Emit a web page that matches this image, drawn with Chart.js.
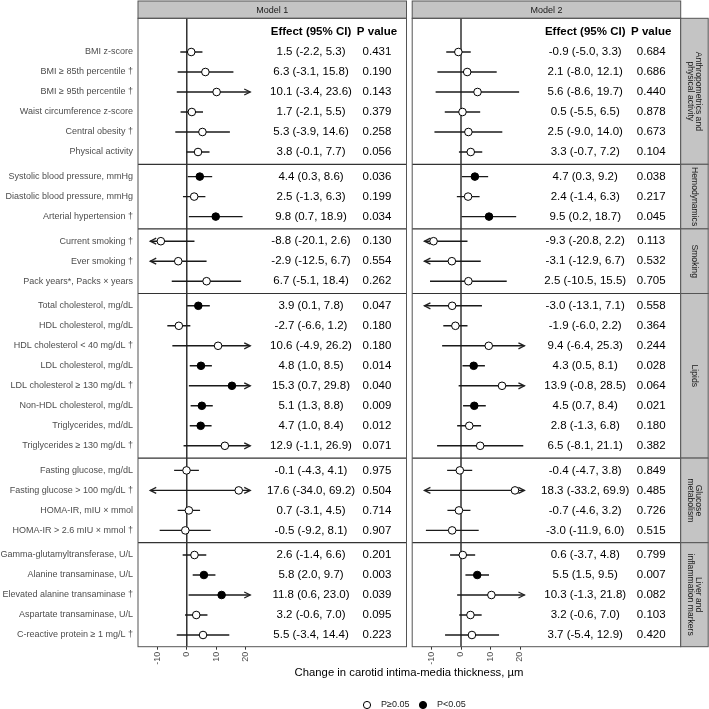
<!DOCTYPE html>
<html>
<head>
<meta charset="utf-8">
<script src="https://cdn.jsdelivr.net/npm/chart.js@4.4.1/dist/chart.umd.min.js"></script>
<style>
  body { margin: 0; background: #fff; }
  #wrap { position: relative; width: 709px; height: 709px; }
  #wrap canvas { position: absolute; left: 0; top: 0; }
</style>
</head>
<body>
<div id="wrap">
  <canvas id="model1" width="709" height="709"></canvas>
  <canvas id="model2" width="709" height="709"></canvas>
</div>
<script>
const groupNames = [["Anthropometrics and", "physical activity"], ["Hemodynamics"], ["Smoking"], ["Lipids"], ["Glucose", "metabolism"], ["Liver and", "inflammation markers"]];
const groupSizes = [6, 3, 3, 8, 4, 5];

const rowLabels = [
  "BMI z-score", "BMI ≥ 85th percentile †", "BMI ≥ 95th percentile †", "Waist circumference z-score", "Central obesity †", "Physical activity",
  "Systolic blood pressure, mmHg", "Diastolic blood pressure, mmHg", "Arterial hypertension †",
  "Current smoking †", "Ever smoking †", "Pack years*, Packs × years",
  "Total cholesterol, mg/dL", "HDL cholesterol, mg/dL", "HDL cholesterol < 40 mg/dL †", "LDL cholesterol, mg/dL",
  "LDL cholesterol ≥ 130 mg/dL †", "Non-HDL cholesterol, mg/dL", "Triglycerides, md/dL", "Triglycerides ≥ 130 mg/dL †",
  "Fasting glucose, mg/dL", "Fasting glucose > 100 mg/dL †", "HOMA-IR, mIU × mmol", "HOMA-IR > 2.6 mIU × mmol †",
  "Gamma-glutamyltransferase, U/L", "Alanine transaminase, U/L", "Elevated alanine transaminase †", "Aspartate transaminase, U/L", "C-reactive protein ≥ 1 mg/L †"
];

// Model 1
const m1Est  = [1.5, 6.3, 10.1, 1.7, 5.3, 3.8, 4.4, 2.5, 9.8, -8.8, -2.9, 6.7, 3.9, -2.7, 10.6, 4.8, 15.3, 5.1, 4.7, 12.9, -0.1, 17.6, 0.7, -0.5, 2.6, 5.8, 11.8, 3.2, 5.5];
const m1Low  = [-2.2, -3.1, -3.4, -2.1, -3.9, -0.1, 0.3, -1.3, 0.7, -20.1, -12.5, -5.1, 0.1, -6.6, -4.9, 1.0, 0.7, 1.3, 1.0, -1.1, -4.3, -34.0, -3.1, -9.2, -1.4, 2.0, 0.6, -0.6, -3.4];
const m1High = [5.3, 15.8, 23.6, 5.5, 14.6, 7.7, 8.6, 6.3, 18.9, 2.6, 6.7, 18.4, 7.8, 1.2, 26.2, 8.5, 29.8, 8.8, 8.4, 26.9, 4.1, 69.2, 4.5, 8.1, 6.6, 9.7, 23.0, 7.0, 14.4];
const m1P    = [0.431, 0.190, 0.143, 0.379, 0.258, 0.056, 0.036, 0.199, 0.034, 0.130, 0.554, 0.262, 0.047, 0.180, 0.180, 0.014, 0.040, 0.009, 0.012, 0.071, 0.975, 0.504, 0.714, 0.907, 0.201, 0.003, 0.039, 0.095, 0.223];

// Model 2
const m2Est  = [-0.9, 2.1, 5.6, 0.5, 2.5, 3.3, 4.7, 2.4, 9.5, -9.3, -3.1, 2.5, -3.0, -1.9, 9.4, 4.3, 13.9, 4.5, 2.8, 6.5, -0.4, 18.3, -0.7, -3.0, 0.6, 5.5, 10.3, 3.2, 3.7];
const m2Low  = [-5.0, -8.0, -8.6, -5.5, -9.0, -0.7, 0.3, -1.4, 0.2, -20.8, -12.9, -10.5, -13.1, -6.0, -6.4, 0.5, -0.8, 0.7, -1.3, -8.1, -4.7, -33.2, -4.6, -11.9, -3.7, 1.5, -1.3, -0.6, -5.4];
const m2High = [3.3, 12.1, 19.7, 6.5, 14.0, 7.2, 9.2, 6.3, 18.7, 2.2, 6.7, 15.5, 7.1, 2.2, 25.3, 8.1, 28.5, 8.4, 6.8, 21.1, 3.8, 69.9, 3.2, 6.0, 4.8, 9.5, 21.8, 7.0, 12.9];
const m2P    = [0.684, 0.686, 0.440, 0.878, 0.673, 0.104, 0.038, 0.217, 0.045, 0.113, 0.532, 0.705, 0.558, 0.364, 0.244, 0.028, 0.064, 0.021, 0.180, 0.382, 0.849, 0.485, 0.726, 0.515, 0.799, 0.007, 0.082, 0.103, 0.420];

const tickValues = [-10, 0, 10, 20];
const xMin = -16.54, xMax = 74.46;     // axis range of each panel
const clipLow = -12.4, clipHigh = 21.5; // CI beyond these gets an arrow
const groupGap = 1.23;

const FONT = "'Liberation Sans', Arial, sans-serif";
Chart.defaults.font.family = FONT;

// row positions on the y scale (0 = column header row)
const rowPos = [];
const seps = [];
let u = 0;
groupSizes.forEach((n, g) => {
  for (let i = 0; i < n; i++) {
    if (i === 0 && g > 0) {
      seps.push(u + groupGap / 2);
      u += groupGap;
    } else {
      u += 1;
    }
    rowPos.push(u);
  }
});
const yMin = -0.685, yMax = rowPos[rowPos.length - 1] + 0.585;

const fmt = v => v.toFixed(1);

function arrowHead(ctx, xTip, yy, dir) {
  const len = 6, half = 3;
  ctx.beginPath();
  ctx.moveTo(xTip - dir * len, yy - half);
  ctx.lineTo(xTip, yy);
  ctx.lineTo(xTip - dir * len, yy + half);
  ctx.stroke();
}

const panelDecor = {
  id: 'panelDecor',
  beforeDatasetsDraw(chart, args, o) {
    const { ctx, chartArea: a, scales: { x, y } } = chart;
    ctx.save();
    // header strip
    ctx.fillStyle = '#c4c4c4';
    ctx.fillRect(a.left, 1, a.right - a.left, a.top - 1);
    ctx.strokeStyle = '#555';
    ctx.lineWidth = 1;
    ctx.strokeRect(a.left, 1, a.right - a.left, a.top - 1);
    ctx.fillStyle = '#1a1a1a';
    ctx.font = '9px ' + FONT;
    ctx.textAlign = 'center';
    ctx.textBaseline = 'middle';
    ctx.fillText(o.title, (a.left + a.right) / 2, (1 + a.top) / 2 + 0.5);

    // zero line
    const x0 = x.getPixelForValue(0);
    ctx.strokeStyle = '#111';
    ctx.lineWidth = 1.3;
    ctx.beginPath();
    ctx.moveTo(x0, a.top);
    ctx.lineTo(x0, a.bottom);
    ctx.stroke();

    // group separators
    ctx.strokeStyle = '#333';
    ctx.lineWidth = 1.2;
    seps.forEach(s => {
      const py = y.getPixelForValue(s);
      ctx.beginPath();
      ctx.moveTo(a.left, py);
      ctx.lineTo(a.right, py);
      ctx.stroke();
    });
    ctx.restore();
  },
  afterDatasetsDraw(chart, args, o) {
    const { ctx, chartArea: a, scales: { x, y } } = chart;
    ctx.save();
    // arrows on clipped intervals
    ctx.strokeStyle = '#222';
    ctx.lineWidth = 1.3;
    o.low.forEach((lo, i) => {
      const py = y.getPixelForValue(rowPos[i]);
      if (lo < clipLow) arrowHead(ctx, x.getPixelForValue(clipLow), py, -1);
      if (o.high[i] > clipHigh) arrowHead(ctx, x.getPixelForValue(clipHigh), py, 1);
    });

    // panel border
    ctx.strokeStyle = '#555';
    ctx.lineWidth = 1;
    ctx.strokeRect(a.left, a.top, a.right - a.left, a.bottom - a.top);

    // table columns
    const cEff = a.left + 173, cP = a.left + 239;
    ctx.fillStyle = '#000';
    ctx.textAlign = 'center';
    ctx.textBaseline = 'middle';
    ctx.font = 'bold 11.5px ' + FONT;
    const hy = y.getPixelForValue(0);
    ctx.fillText('Effect (95% CI)', cEff, hy);
    ctx.fillText('P value', cP, hy);
    ctx.font = '11.5px ' + FONT;
    o.est.forEach((e, i) => {
      const py = y.getPixelForValue(rowPos[i]);
      ctx.fillText(fmt(e) + ' (' + fmt(o.low[i]) + ', ' + fmt(o.high[i]) + ')', cEff, py);
      ctx.fillText(o.p[i].toFixed(3), cP, py);
    });

    if (o.first) {
      // row labels
      ctx.fillStyle = '#4d4d4d';
      ctx.font = '9px ' + FONT;
      ctx.textAlign = 'right';
      rowLabels.forEach((lab, i) => {
        ctx.fillText(lab, a.left - 5, y.getPixelForValue(rowPos[i]));
      });
    } else {
      // group strips on the right
      const bounds = [a.top].concat(seps.map(s => y.getPixelForValue(s)), [a.bottom]);
      const sx = a.right, sw = 27.5;
      groupNames.forEach((lines, g) => {
        const t = bounds[g], b = bounds[g + 1];
        ctx.fillStyle = '#c4c4c4';
        ctx.fillRect(sx, t, sw, b - t);
        ctx.strokeStyle = '#555';
        ctx.lineWidth = 1;
        ctx.strokeRect(sx, t, sw, b - t);
        ctx.save();
        ctx.translate(sx + sw / 2, (t + b) / 2);
        ctx.rotate(Math.PI / 2);
        ctx.fillStyle = '#1a1a1a';
        ctx.font = '8.6px ' + FONT;
        ctx.textAlign = 'center';
        ctx.textBaseline = 'middle';
        const lh = 8.6;
        lines.forEach((ln, k) => {
          ctx.fillText(ln, 0, (k - (lines.length - 1) / 2) * lh);
        });
        ctx.restore();
      });

      // axis title
      ctx.fillStyle = '#000';
      ctx.font = '11.3px ' + FONT;
      ctx.textAlign = 'center';
      ctx.fillText('Change in carotid intima-media thickness, µm', 409, 673);

      // legend
      ctx.font = '9px ' + FONT;
      ctx.textAlign = 'left';
      ctx.lineWidth = 1;
      ctx.strokeStyle = '#000';
      ctx.beginPath();
      ctx.arc(367, 705, 3.6, 0, Math.PI * 2);
      ctx.fillStyle = '#fff';
      ctx.fill();
      ctx.stroke();
      ctx.fillStyle = '#1a1a1a';
      ctx.fillText('P≥0.05', 381, 705);
      ctx.beginPath();
      ctx.arc(423, 705, 3.6, 0, Math.PI * 2);
      ctx.fillStyle = '#000';
      ctx.fill();
      ctx.stroke();
      ctx.fillStyle = '#1a1a1a';
      ctx.fillText('P<0.05', 437, 705);
    }
    ctx.restore();
  }
};

function makeChart(id, title, est, low, high, p, panelLeft, first) {
  const panelRight = panelLeft + 268.5;
  return new Chart(document.getElementById(id).getContext('2d'), {
    data: {
      datasets: [
        {
          type: 'scatter',
          data: est.map((v, i) => ({ x: v, y: rowPos[i] })),
          pointRadius: 3.8,
          pointBorderWidth: 1,
          pointBorderColor: '#000',
          pointBackgroundColor: p.map(v => v < 0.05 ? '#000' : '#fff'),
          order: 0
        },
        {
          type: 'bar',
          indexAxis: 'y',
          data: low.map((v, i) => ({ x: [Math.max(v, clipLow), Math.min(high[i], clipHigh)], y: rowPos[i] })),
          backgroundColor: '#1a1a1a',
          borderWidth: 0,
          barThickness: 1.4,
          inflateAmount: 0,
          order: 1
        }
      ]
    },
    options: {
      responsive: false,
      animation: false,
      layout: { padding: { left: panelLeft, right: 709 - panelRight, top: 18.3, bottom: 709 - 646.7 - 24 } },
      scales: {
        x: {
          type: 'linear',
          min: xMin,
          max: xMax,
          offset: false,
          afterBuildTicks: s => { s.ticks = tickValues.map(v => ({ value: v })); },
          afterFit: s => { s.height = 24; },
          ticks: { minRotation: 90, maxRotation: 90, autoSkip: false, padding: 2, color: '#4d4d4d', font: { size: 9 } },
          grid: { drawOnChartArea: false, drawTicks: true, tickLength: 3, tickColor: '#333', tickWidth: 1 },
          border: { display: false }
        },
        y: { type: 'linear', display: false, reverse: true, offset: false, min: yMin, max: yMax }
      },
      plugins: {
        legend: { display: false },
        tooltip: { enabled: false },
        panelDecor: { title, est, low, high, p, first }
      }
    },
    plugins: [panelDecor]
  });
}

makeChart('model1', 'Model 1', m1Est, m1Low, m1High, m1P, 138, true);
makeChart('model2', 'Model 2', m2Est, m2Low, m2High, m2P, 412.2, false);
</script>
</body>
</html>
